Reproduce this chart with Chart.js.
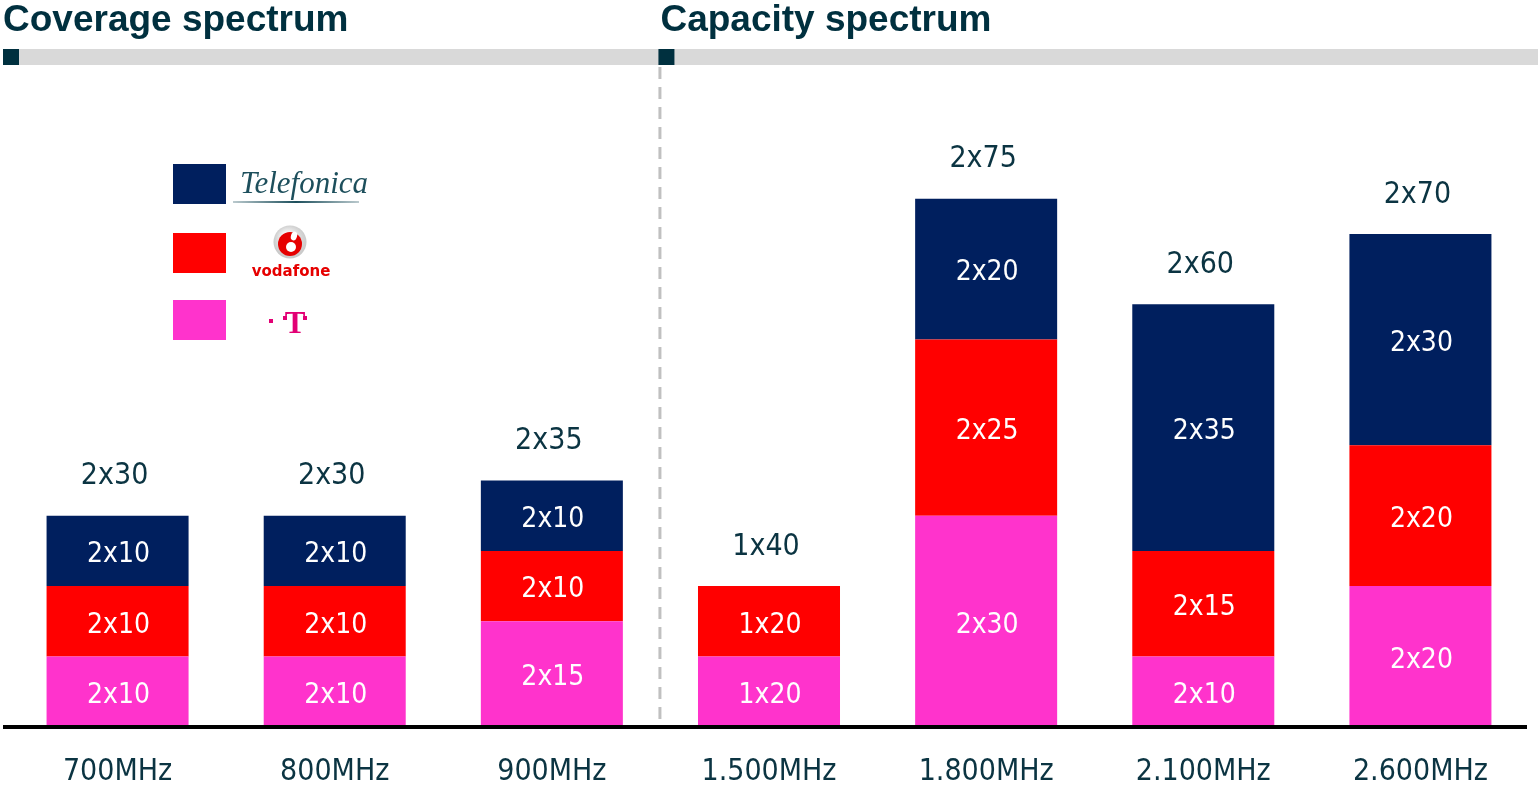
<!DOCTYPE html>
<html>
<head>
<meta charset="utf-8">
<script src="https://cdn.jsdelivr.net/npm/chart.js"></script>
<style>
html,body{margin:0;padding:0;background:#fff;}
#wrap{position:relative;width:1538px;height:793px;}
</style>
</head>
<body>
<div id="wrap"><canvas id="c"></canvas></div>
<script>
const categories = ['700MHz','800MHz','900MHz','1.500MHz','1.800MHz','2.100MHz','2.600MHz'];
const tValues = [10,10,15,10,30,10,20];
const vodafoneValues = [10,10,10,10,25,15,20];
const telefonicaValues = [10,10,10,0,20,35,30];
const tLabels = ['2x10','2x10','2x15','1x20','2x30','2x10','2x20'];
const vodafoneLabels = ['2x10','2x10','2x10','1x20','2x25','2x15','2x20'];
const telefonicaLabels = ['2x10','2x10','2x10','','2x20','2x35','2x30'];
const totalLabels = ['2x30','2x30','2x35','1x40','2x75','2x60','2x70'];
const sectionTitles = ['Coverage spectrum','Capacity spectrum'];
const legendNames = ['Telefonica','Vodafone','T'];

const NAVY = '#001f5e', RED = '#ff0000', PINK = '#ff33cc', TEAL = '#00303f';
const FONT = '"DejaVu Sans Condensed","DejaVu Sans",sans-serif';
const segLabels = [tLabels, vodafoneLabels, telefonicaLabels];

const decor = {
  id: 'decor',
  beforeDraw(chart) {
    const ctx = chart.ctx;
    const x = chart.scales.x;
    const split = (x.getPixelForValue(2) + x.getPixelForValue(3)) / 2;
    ctx.save();
    // header bars
    ctx.fillStyle = '#d9d9d9';
    ctx.fillRect(3, 49, 1535, 16);
    ctx.fillStyle = TEAL;
    ctx.fillRect(3, 49, 16, 16);
    ctx.fillRect(split - 2, 49, 16, 16);
    // titles
    ctx.font = 'bold 37px "Liberation Sans", Arial, sans-serif';
    ctx.textBaseline = 'alphabetic';
    ctx.textAlign = 'left';
    ctx.fillText(sectionTitles[0], 3, 31);
    ctx.fillText(sectionTitles[1], split, 31);
    // dashed divider
    ctx.strokeStyle = '#c0c0c0';
    ctx.lineWidth = 3;
    ctx.setLineDash([12, 8]);
    ctx.beginPath();
    ctx.moveTo(split - 0.5, 67);
    ctx.lineTo(split - 0.5, chart.chartArea.bottom);
    ctx.stroke();
    ctx.restore();
  },
  afterDatasetsDraw(chart) {
    const ctx = chart.ctx;
    ctx.save();
    // segment labels
    ctx.textAlign = 'center';
    ctx.textBaseline = 'middle';
    ctx.font = '28px ' + FONT;
    ctx.fillStyle = '#ffffff';
    chart.data.datasets.forEach((ds, di) => {
      const meta = chart.getDatasetMeta(di);
      meta.data.forEach((el, i) => {
        const txt = segLabels[di][i];
        if (!txt || !ds.data[i]) return;
        ctx.fillText(txt, el.x + 1, (el.y + el.base) / 2 + 4);
      });
    });
    // totals
    const top = chart.getDatasetMeta(chart.data.datasets.length - 1);
    ctx.fillStyle = '#0b3442';
    ctx.font = '30px ' + FONT;
    top.data.forEach((el, i) => {
      ctx.fillText(totalLabels[i], el.x - 3, el.y - 39);
    });
    // baseline
    const b = chart.chartArea.bottom;
    ctx.fillStyle = '#000';
    ctx.fillRect(3, b - 2, 1524, 4);
    // legend
    const colors = [NAVY, RED, PINK];
    const ys = [164, 233, 300];
    colors.forEach((c, k) => { ctx.fillStyle = c; ctx.fillRect(173, ys[k], 53, 40); });
    // Telefonica logo
    ctx.fillStyle = '#1d4f5c';
    ctx.textAlign = 'left';
    ctx.textBaseline = 'alphabetic';
    ctx.font = 'italic 31px "Liberation Serif", serif';
    ctx.fillText(legendNames[0], 240, 193);
    const g = ctx.createLinearGradient(233, 0, 359, 0);
    g.addColorStop(0, 'rgba(29,79,92,0.3)');
    g.addColorStop(0.5, '#1d4f5c');
    g.addColorStop(1, 'rgba(29,79,92,0.3)');
    ctx.fillStyle = g;
    ctx.fillRect(233, 201, 126, 2);
    // Vodafone logo
    const rg = ctx.createRadialGradient(286, 236, 2, 290, 241, 17);
    rg.addColorStop(0, '#ffffff');
    rg.addColorStop(1, '#c8c8c8');
    ctx.fillStyle = rg;
    ctx.beginPath(); ctx.arc(290, 242, 16.5, 0, Math.PI * 2); ctx.fill();
    ctx.fillStyle = '#e60000';
    ctx.beginPath(); ctx.arc(290, 244, 12, 0, Math.PI * 2); ctx.fill();
    ctx.fillStyle = '#ffffff';
    ctx.beginPath(); ctx.arc(291, 247, 5, 0, Math.PI * 2); ctx.fill();
    ctx.beginPath(); ctx.ellipse(294, 236, 3, 4.5, 0.3, 0, Math.PI * 2); ctx.fill();
    ctx.fillStyle = '#e60000';
    ctx.textAlign = 'center';
    ctx.font = 'bold 15px "DejaVu Sans", sans-serif';
    ctx.fillText(legendNames[1].toLowerCase(), 291, 276);
    // T logo
    ctx.fillStyle = '#e20074';
    ctx.fillRect(269, 319, 4, 4);
    ctx.font = 'bold 31px "Liberation Serif", serif';
    ctx.fillText(legendNames[2], 295, 333);
    ctx.fillRect(283, 316, 4, 4);
    ctx.fillRect(303, 316, 4, 4);
    ctx.restore();
  }
};

new Chart(document.getElementById('c'), {
  type: 'bar',
  data: {
    labels: categories,
    datasets: [
      { label: legendNames[2], data: tValues, backgroundColor: PINK },
      { label: legendNames[1], data: vodafoneValues, backgroundColor: RED },
      { label: legendNames[0], data: telefonicaValues, backgroundColor: NAVY }
    ]
  },
  options: {
    responsive: true,
    maintainAspectRatio: false,
    animation: false,
    events: [],
    layout: { padding: { left: 9, right: 9, top: 93, bottom: 0 } },
    datasets: { bar: { categoryPercentage: 1, barPercentage: 0.654, borderWidth: 0 } },
    plugins: { legend: { display: false }, tooltip: { enabled: false } },
    scales: {
      x: {
        stacked: true,
        grid: { display: false, drawTicks: false },
        border: { display: false },
        ticks: { color: '#0b3442', font: { family: FONT, size: 30 }, padding: 27 },
        afterFit(scale) { scale.height = 66; }
      },
      y: {
        stacked: true,
        display: false,
        min: 0,
        max: 90
      }
    }
  },
  plugins: [decor]
});
</script>
</body>
</html>
